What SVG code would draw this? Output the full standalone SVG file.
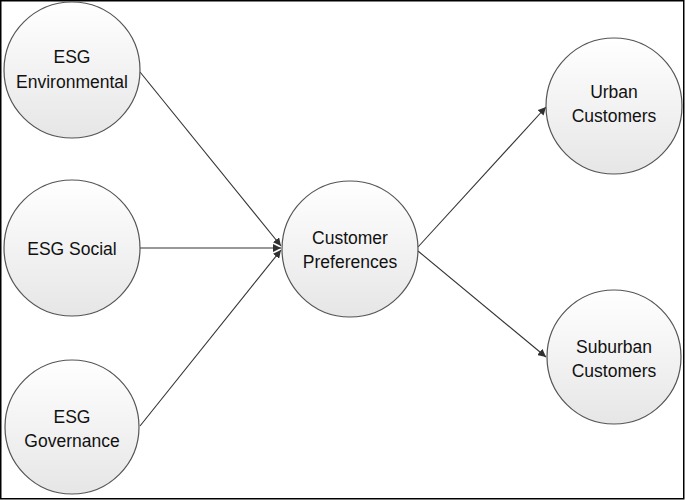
<svg xmlns="http://www.w3.org/2000/svg" width="685" height="500" viewBox="0 0 685 500">
<defs>
<linearGradient id="g" x1="0" y1="0" x2="0" y2="1">
<stop offset="0" stop-color="#ffffff"/>
<stop offset="1" stop-color="#e6e6e6"/>
</linearGradient>
<marker id="arr" viewBox="0 0 10 10" refX="10" refY="5" markerWidth="8" markerHeight="8" markerUnits="userSpaceOnUse" orient="auto">
<path d="M0,0 L10,5 L0,10 z" fill="#303030"/>
</marker>
<style>
.node circle{fill:url(#g);stroke:#555555;stroke-width:1.2}
.node text{font-family:"Liberation Sans",Arial,sans-serif;font-size:17.5px;fill:#111111;text-anchor:middle}
.conn line{stroke:#333333;stroke-width:1.1;marker-end:url(#arr)}
</style>
</defs>
<rect x="0.75" y="0.75" width="683" height="498" fill="#ffffff" stroke="#000000" stroke-width="1.5"/>
<g class="conn" id="connectors">
<line x1="140" y1="72" x2="281" y2="246"/>
<line x1="140" y1="248" x2="281" y2="248"/>
<line x1="140" y1="426" x2="281" y2="250"/>
<line x1="418" y1="247" x2="546" y2="107"/>
<line x1="418" y1="251" x2="546" y2="357"/>
</g>
<g class="node" id="esg-env"><circle cx="72" cy="70" r="68"/><text x="72" y="63">ESG</text><text x="72" y="88">Environmental</text></g>
<g class="node" id="esg-social"><circle cx="72" cy="248" r="68"/><text x="72" y="255">ESG Social</text></g>
<g class="node" id="esg-gov"><circle cx="72" cy="427" r="67"/><text x="72" y="423">ESG</text><text x="72" y="447">Governance</text></g>
<g class="node" id="cust-pref"><circle cx="350" cy="249" r="68"/><text x="350" y="244">Customer</text><text x="350" y="268">Preferences</text></g>
<g class="node" id="urban"><circle cx="614" cy="106" r="68"/><text x="614" y="98">Urban</text><text x="614" y="122">Customers</text></g>
<g class="node" id="suburban"><circle cx="614" cy="357" r="67"/><text x="614" y="353">Suburban</text><text x="614" y="377">Customers</text></g>
</svg>
